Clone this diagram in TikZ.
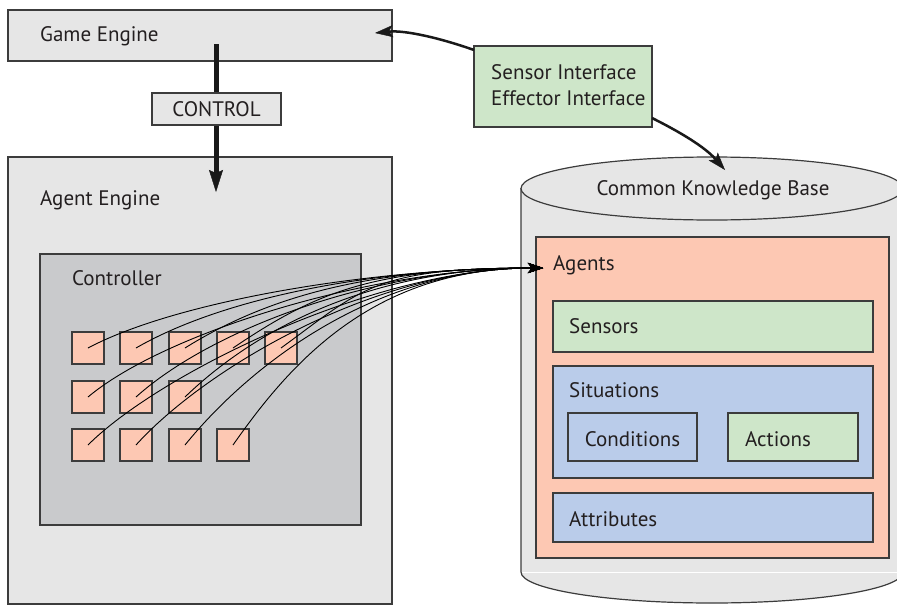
\documentclass[tikz,border=0pt]{standalone}
\usepackage{fontspec}
\setmainfont{PT Sans}
\usetikzlibrary{arrows.meta}
\definecolor{lgray}{HTML}{E6E6E6}
\definecolor{cgray}{HTML}{C9CACC}
\definecolor{salmon}{HTML}{FDC8B3}
\definecolor{lgreen}{HTML}{CEE6C9}
\definecolor{lblue}{HTML}{BACCEA}
\definecolor{stroke}{HTML}{3C3C3C}
\definecolor{txt}{HTML}{231F20}
\tikzset{
  box/.style={draw=stroke, line width=1.2pt, anchor=north west, inner sep=0pt, outer sep=0pt},
  lbl/.style={anchor=base west, inner sep=0pt, text=txt, font=\fontsize{21}{25}\selectfont},
  boxtext/.style={text=txt, font=\fontsize{21}{25}\selectfont},
  sq/.style={box, fill=salmon, minimum width=32pt, minimum height=32pt},
  curve/.style={draw=black, line width=0.9pt, -{Stealth[length=15pt,width=10pt,inset=4pt,line width=0.4pt]}},
  ifarrow/.style={draw=black!90, line width=2.5pt, -{Stealth[length=18pt,width=12pt,inset=4pt,line width=0.4pt]}},
  ctrlarrow/.style={draw=black!90, line width=5pt, -{Stealth[length=22pt,width=14pt,inset=3pt,line width=0.4pt]}}
}
\begin{document}
\begin{tikzpicture}[x=1pt,y=-1pt]
\useasboundingbox (0,0) rectangle (897,605);
\clip (0,0) rectangle (897,605);
\fill[white] (0,0) rectangle (897,605);

% Game engine
\node[box, fill=lgray, minimum width=384pt, minimum height=51pt] (game) at (8,10) {};
\node[lbl] (gamelbl) at (40,41) {Game Engine};

% Agent engine
\node[box, fill=lgray, minimum width=384pt, minimum height=447pt] (agent) at (8,157) {};
\node[lbl] (agentlbl) at (40,205) {Agent Engine};

% Control arrow
\coordinate (ctrlstart) at (216,44);
\coordinate (ctrlend) at (216,192);
\draw[ctrlarrow] (ctrlstart) -- (ctrlend);
\node[box, fill=lgray, minimum width=129pt, minimum height=32pt, boxtext] (control) at (152,93) {CONTROL};

% Controller
\node[box, fill=cgray, minimum width=321pt, minimum height=271pt] (controller) at (40,254) {};
\node[lbl] (controllerlbl) at (72,285) {Controller};

% squares
\foreach \c/\x in {1/72,2/120,3/169,4/217,5/265}
  \node[sq] (s1\c) at (\x,332) {};
\foreach \c/\x in {1/72,2/120,3/169}
  \node[sq] (s2\c) at (\x,381) {};
\foreach \c/\x in {1/72,2/120,3/169,4/217}
  \node[sq] (s3\c) at (\x,429) {};

% Cylinder (Common Knowledge Base)
\path[draw=stroke, fill=lgray, line width=1.2pt]
  (521,188) -- (521,572) arc[start angle=180, end angle=360, x radius=191pt, y radius=31pt] -- (903,188);
\draw[white, line width=1pt] (522,572) -- (903,572);
\draw[draw=stroke, fill=lgray, line width=1.2pt] (712,188.5) ellipse [x radius=191pt, y radius=31.5pt];
\node[boxtext, anchor=base, inner sep=0pt] (ckblbl) at (713,195) {Common Knowledge Base};
\coordinate (ckbtop) at (725,170);

% Agents
\node[box, fill=salmon, minimum width=353pt, minimum height=321pt] (agents) at (536,237) {};
\node[lbl] (agentslbl) at (553,270) {Agents};
\coordinate (agentsin) at (543,268);
\node[box, fill=lgreen, minimum width=320pt, minimum height=51pt] (sensors) at (553,301) {};
\node[lbl] (sensorslbl) at (569,333) {Sensors};
\node[box, fill=lblue, minimum width=320pt, minimum height=112pt] (situations) at (553,366) {};
\node[lbl] (situationslbl) at (569,397) {Situations};
\node[box, fill=lblue, minimum width=129pt, minimum height=48pt] (conditions) at (568,413) {};
\node[lbl, anchor=base] (conditionslbl) at (632.5,446) {Conditions};
\node[box, fill=lgreen, minimum width=130pt, minimum height=48pt] (actions) at (728,413) {};
\node[lbl] (actionslbl) at (745,446) {Actions};
\node[box, fill=lblue, minimum width=320pt, minimum height=49pt] (attributes) at (553,493) {};
\node[lbl] (attributeslbl) at (569,526) {Attributes};

% Sensor / Effector interface
\node[box, fill=lgreen, minimum width=178pt, minimum height=81pt] (iface) at (474,46) {};
\node[boxtext, anchor=west, inner sep=0pt, align=left, font=\fontsize{21}{26}\selectfont] (ifacelbl) at (491,85) {Sensor Interface\\Effector Interface};
\coordinate (ifaceL) at (474,50);
\coordinate (ifaceR) at (652,118);
\coordinate (gamein) at (375,33);
\draw[ifarrow] (ifaceL) .. controls (440,38) and (405,30) .. (gamein);
\draw[ifarrow] (ifaceR) .. controls (680,132) and (705,147) .. (ckbtop);

% curves from controller squares to Agents
\foreach \n/\a in {s11/28,s12/30,s13/32,s14/34,s15/36,s21/40,s22/42,s23/44,s31/45,s32/48,s33/51,s34/55}
  \draw[curve] (\n.center) .. controls +({100*cos(\a)},{-100*sin(\a)}) and +(-170,0) .. (agentsin);
\end{tikzpicture}
\end{document}
